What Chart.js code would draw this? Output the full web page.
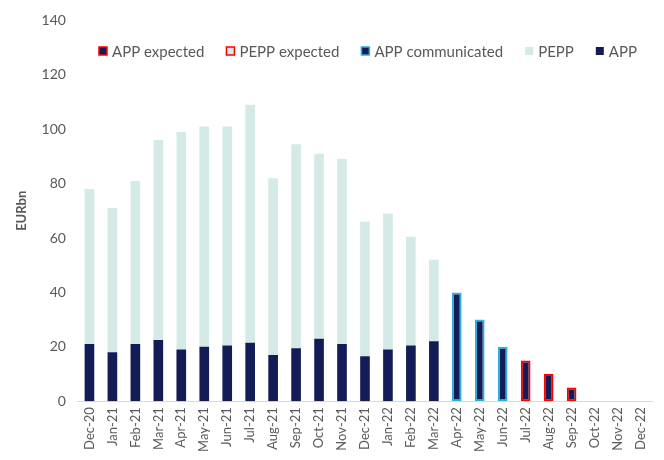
<!DOCTYPE html>
<html>
<head>
<meta charset="utf-8">
<script src="https://cdn.jsdelivr.net/npm/chart.js@4"></script>
<style>
  body { margin: 0; background: #fff; }
  #wrap { width: 664px; height: 460px; }
</style>
</head>
<body>
<div id="wrap"><canvas id="purchases" width="664" height="460"></canvas></div>
<script>
var months = ['Dec-20','Jan-21','Feb-21','Mar-21','Apr-21','May-21','Jun-21','Jul-21','Aug-21','Sep-21','Oct-21','Nov-21',
              'Dec-21','Jan-22','Feb-22','Mar-22','Apr-22','May-22','Jun-22','Jul-22','Aug-22','Sep-22','Oct-22','Nov-22','Dec-22'];

// monthly net purchases, EUR bn
var app          = [21, 18, 21, 22.5, 19, 20, 20.5, 21.5, 17, 19.5, 23, 21, 16.5, 19, 20.5, 22, null, null, null, null, null, null, null, null, null];
var pepp         = [57, 53, 60, 73.5, 80, 81, 80.5, 87.5, 65, 75, 68, 68, 49.5, 50, 40, 30, null, null, null, null, null, null, null, null, null];
var appComm      = [null, null, null, null, null, null, null, null, null, null, null, null, null, null, null, null, 40, 30, 20, null, null, null, null, null, null];
var peppExpected = [null, null, null, null, null, null, null, null, null, null, null, null, null, null, null, null, null, null, null, null, null, null, null, null, null];
var appExpected  = [null, null, null, null, null, null, null, null, null, null, null, null, null, null, null, null, null, null, null, 15, 10, 5, null, null, null];

var yTicks = [0, 20, 40, 60, 80, 100, 120, 140];

var navy = '#131c57';
var mint = '#d3eae6';
var grey = '#595959';
var fontFam = 'Lato, "Open Sans", sans-serif';

function bars(label, data, fill, border, bw) {
    return {
        label: label,
        data: data,
        backgroundColor: fill,
        borderColor: border,
        borderWidth: bw,
        borderSkipped: false,
        stack: 'one',
        barPercentage: 0.42,
        categoryPercentage: 1
    };
}

// legend drawn inside the plot area, one row, reverse dataset order
var insideLegend = {
    id: 'insideLegend',
    afterDraw: function(chart) {
        var c = chart.ctx, area = chart.chartArea;
        var box = 8, gapText = 5, gapItem = 22, y = 51;
        c.save();
        c.font = '15px ' + fontFam;
        c.textBaseline = 'middle';
        var items = chart.data.datasets.slice().reverse();
        var total = 0;
        items.forEach(function(ds, i) {
            total += box + gapText + c.measureText(ds.label).width + (i < items.length - 1 ? gapItem : 0);
        });
        var x = (area.left + area.right) / 2 - total / 2 + 3;
        items.forEach(function(ds) {
            c.fillStyle = ds.backgroundColor;
            c.fillRect(x, y - box / 2, box, box);
            if (ds.borderWidth) {
                c.strokeStyle = ds.borderColor;
                c.lineWidth = 1.5;
                c.strokeRect(x, y - box / 2, box, box);
            }
            c.fillStyle = grey;
            c.fillText(ds.label, x + box + gapText, y + 1);
            x += box + gapText + c.measureText(ds.label).width + gapItem;
        });
        c.restore();
    }
};

var ctx = document.getElementById('purchases').getContext('2d');
var myChart = new Chart(ctx, {
    type: 'bar',
    data: {
        labels: months,
        datasets: [
            bars('APP', app, navy, navy, 0),
            bars('PEPP', pepp, mint, mint, 0),
            bars('APP communicated', appComm, navy, '#29b3dc', 2),
            bars('PEPP expected', peppExpected, mint, '#ff0000', 2),
            bars('APP expected', appExpected, navy, '#ff0000', 2)
        ]
    },
    plugins: [insideLegend],
    options: {
        responsive: false,
        animation: false,
        layout: { padding: { left: 14, right: 12, top: 14, bottom: 2 } },
        plugins: {
            tooltip: { enabled: false },
            legend: { display: false }
        },
        scales: {
            x: {
                stacked: true,
                grid: { display: false, drawTicks: false },
                border: { color: '#d9d9d9', width: 1 },
                ticks: {
                    color: grey,
                    font: { family: fontFam, size: 13 },
                    maxRotation: 90,
                    minRotation: 90,
                    autoSkip: false,
                    padding: 6
                }
            },
            y: {
                stacked: true,
                min: 0,
                max: 140,
                afterBuildTicks: function(axis) {
                    axis.ticks = yTicks.map(function(v) { return { value: v }; });
                },
                grid: { display: false, drawTicks: false },
                border: { display: false },
                ticks: {
                    color: grey,
                    font: { family: fontFam, size: 14 },
                    padding: 12
                },
                title: {
                    display: true,
                    text: 'EURbn',
                    color: grey,
                    font: { family: fontFam, size: 13, weight: 'bold' },
                    padding: { top: 0, bottom: 0 }
                }
            }
        }
    }
});
</script>
</body>
</html>
